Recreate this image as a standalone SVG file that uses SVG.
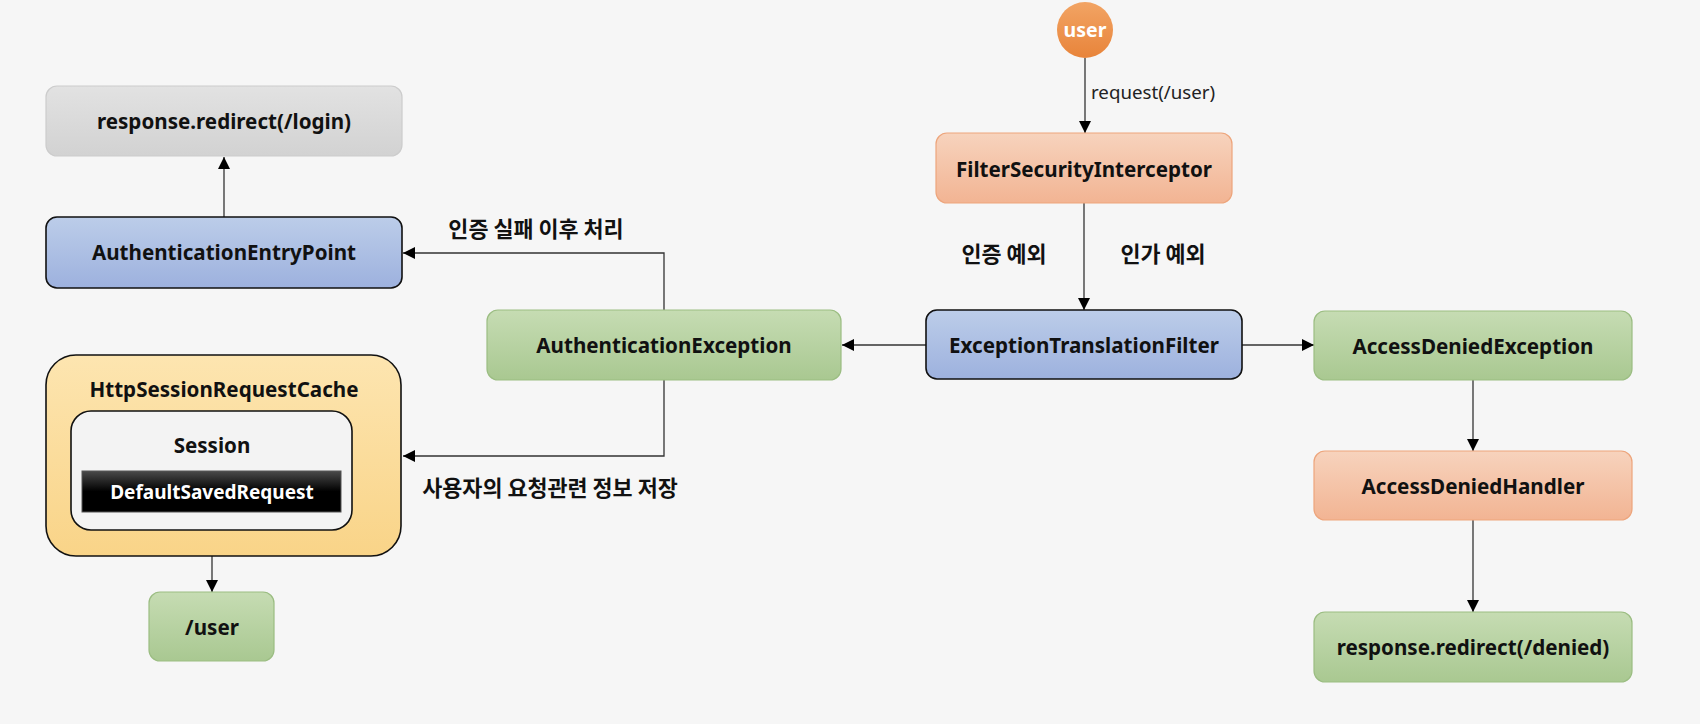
<svg xmlns="http://www.w3.org/2000/svg" width="1700" height="724" viewBox="0 0 1700 724">
<defs>
<linearGradient id="gGray" x1="0" y1="0" x2="0" y2="1"><stop offset="0" stop-color="#e2e2e2"/><stop offset="1" stop-color="#d2d2d2"/></linearGradient>
<linearGradient id="gBlue" x1="0" y1="0" x2="0" y2="1"><stop offset="0" stop-color="#bccde9"/><stop offset="1" stop-color="#9db1de"/></linearGradient>
<linearGradient id="gGreen" x1="0" y1="0" x2="0" y2="1"><stop offset="0" stop-color="#c6dcb3"/><stop offset="1" stop-color="#a9c891"/></linearGradient>
<linearGradient id="gOrange" x1="0" y1="0" x2="0" y2="1"><stop offset="0" stop-color="#f7d3bd"/><stop offset="1" stop-color="#f2b493"/></linearGradient>
<linearGradient id="gUser" x1="0" y1="0" x2="0" y2="1"><stop offset="0" stop-color="#f2a464"/><stop offset="1" stop-color="#e8843a"/></linearGradient>
<linearGradient id="gYellow" x1="0" y1="0" x2="0" y2="1"><stop offset="0" stop-color="#fde5b0"/><stop offset="1" stop-color="#f9d488"/></linearGradient>
<linearGradient id="gBlack" x1="0" y1="0" x2="0" y2="1"><stop offset="0" stop-color="#4a4a4a"/><stop offset="0.5" stop-color="#000"/><stop offset="1" stop-color="#000"/></linearGradient>
<marker id="arr" viewBox="0 0 10 10" refX="10" refY="5" markerWidth="12" markerHeight="12" markerUnits="userSpaceOnUse" orient="auto"><path d="M0,0 L10,5 L0,10 z" fill="#000"/></marker>
</defs>
<style>
.lbl{font-family:"Noto Sans","Noto Sans CJK KR",sans-serif;font-weight:bold;font-size:20.6px;fill:#111;text-anchor:middle;dominant-baseline:central}
.kr{font-family:"Noto Sans CJK KR",sans-serif;font-weight:bold;font-size:21.8px;fill:#111;text-anchor:middle;dominant-baseline:central}
.reg{font-family:"Noto Sans",sans-serif;font-size:18.7px;fill:#222;dominant-baseline:central}
.conn{fill:none;stroke:#333;stroke-width:1.3}
.gray{fill:url(#gGray);stroke:#cccccc;stroke-width:1.2}
.blue{fill:url(#gBlue);stroke:#111;stroke-width:1.6}
.green{fill:url(#gGreen);stroke:#9bbd82;stroke-width:1.2}
.orange{fill:url(#gOrange);stroke:#eda57c;stroke-width:1.2}
</style>
<rect width="1700" height="724" fill="#f6f6f6"/>
<g id="connectors">
<line class="conn" x1="224" y1="217" x2="224" y2="157" marker-end="url(#arr)"/>
<polyline class="conn" points="664,310 664,253 403,253" marker-end="url(#arr)"/>
<polyline class="conn" points="664,380 664,456 403,456" marker-end="url(#arr)"/>
<line class="conn" x1="926" y1="345" x2="842" y2="345" marker-end="url(#arr)"/>
<line class="conn" x1="1085" y1="58" x2="1085" y2="133" marker-end="url(#arr)"/>
<line class="conn" x1="1084" y1="203" x2="1084" y2="310" marker-end="url(#arr)"/>
<line class="conn" x1="1242" y1="345" x2="1314" y2="345" marker-end="url(#arr)"/>
<line class="conn" x1="1473" y1="380" x2="1473" y2="451" marker-end="url(#arr)"/>
<line class="conn" x1="1473" y1="520" x2="1473" y2="612" marker-end="url(#arr)"/>
<line class="conn" x1="212" y1="512" x2="212" y2="592" marker-end="url(#arr)"/>
<text class="reg" x="1091" y="91">request(/user)</text>
<text class="kr" x="536" y="227">인증 실패 이후 처리</text>
<text class="kr" x="550" y="486">사용자의 요청관련 정보 저장</text>
<text class="kr" x="1004" y="252">인증 예외</text>
<text class="kr" x="1163" y="252">인가 예외</text>
</g>
<g id="redirect-login"><rect class="gray" x="46" y="86" width="356" height="70" rx="11"/><text class="lbl" x="224" y="121">response.redirect(/login)</text></g>
<g id="auth-entry-point"><rect class="blue" x="46" y="217" width="356" height="71" rx="11"/><text class="lbl" x="224" y="252">AuthenticationEntryPoint</text></g>
<g id="http-session-request-cache">
<rect x="46" y="355" width="355" height="201" rx="30" fill="url(#gYellow)" stroke="#111" stroke-width="1.6"/>
<text class="lbl" x="224" y="389">HttpSessionRequestCache</text>
<g id="session">
<rect x="71" y="411" width="281" height="119" rx="20" fill="#f3f3f3" stroke="#111" stroke-width="1.6"/>
<text class="lbl" x="212" y="445">Session</text>
</g>
<g id="default-saved-request">
<rect x="82" y="471" width="259" height="41" fill="url(#gBlack)" stroke="#555" stroke-width="1"/>
<text class="lbl" x="212" y="492" style="fill:#fff;font-size:19px">DefaultSavedRequest</text>
</g>
</g>
<g id="user-page"><rect class="green" x="149" y="592" width="125" height="69" rx="11"/><text class="lbl" x="212" y="627">/user</text></g>
<g id="authentication-exception"><rect class="green" x="487" y="310" width="354" height="70" rx="11"/><text class="lbl" x="664" y="345">AuthenticationException</text></g>
<g id="user"><circle cx="1085" cy="30" r="28" fill="url(#gUser)"/><text class="lbl" x="1085" y="29" style="fill:#fff;font-size:19.5px">user</text></g>
<g id="filter-security-interceptor"><rect class="orange" x="936" y="133" width="296" height="70" rx="11"/><text class="lbl" x="1084" y="169">FilterSecurityInterceptor</text></g>
<g id="exception-translation-filter"><rect class="blue" x="926" y="310" width="316" height="69" rx="11"/><text class="lbl" x="1084" y="345">ExceptionTranslationFilter</text></g>
<g id="access-denied-exception"><rect class="green" x="1314" y="311" width="318" height="69" rx="11"/><text class="lbl" x="1473" y="346">AccessDeniedException</text></g>
<g id="access-denied-handler"><rect class="orange" x="1314" y="451" width="318" height="69" rx="11"/><text class="lbl" x="1473" y="486">AccessDeniedHandler</text></g>
<g id="redirect-denied"><rect class="green" x="1314" y="612" width="318" height="70" rx="11"/><text class="lbl" x="1473" y="647">response.redirect(/denied)</text></g>
</svg>
